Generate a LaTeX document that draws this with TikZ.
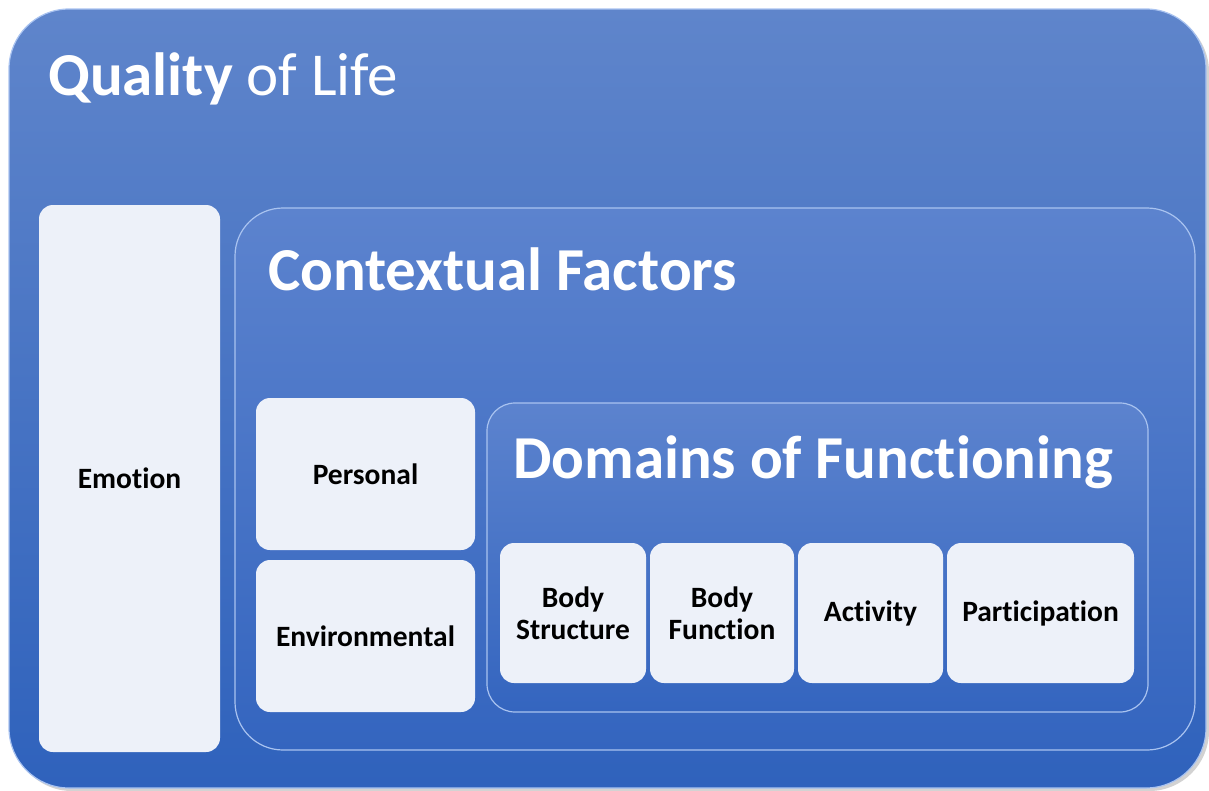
\documentclass[tikz,border=0pt]{standalone}
\usepackage{fontspec}
\setmainfont{Carlito}[Ligatures=CommonOff]
\usetikzlibrary{shadows}
\definecolor{qtop}{HTML}{5F85CB}
\definecolor{qbot}{HTML}{2F62BC}
\definecolor{ftop}{HTML}{5C83CE}
\definecolor{fbot}{HTML}{3465BF}
\definecolor{cell}{HTML}{EDF1F9}
\definecolor{rim}{HTML}{A9C3F0}
\begin{document}
\begin{tikzpicture}[x=1pt,y=-1pt]
	\tikzset{frame/.style={rounded corners=#1, inner sep=0pt, draw=rim, line width=1.2pt, top color=ftop, bottom color=fbot},
	cellbox/.style={rounded corners=14pt, inner sep=0pt, fill=cell, align=center, font=\bfseries\fontsize{29.5}{32}\selectfont},
	head/.style={anchor=base west, inner sep=0pt, text=white, font=\fontsize{61}{66}\selectfont}}
	\useasboundingbox[fill=white] (0,0) rectangle (1209,790);
	\path
	(607.5,398.5) node[frame=60pt, top color=qtop, bottom color=qbot, minimum width=1197pt, minimum height=779pt, drop shadow={opacity=0.35, shadow xshift=3pt, shadow yshift=-3pt}](QoL){}
	(715,479) node[frame=48pt, minimum width=960pt, minimum height=542pt](CF){}
	(817.5,557.5) node[frame=28pt, minimum width=661pt, minimum height=309pt](DF){}
	(48,95) node[head](tQoL){\textbf{Quality} of Life}
	(268,290) node[head, font=\bfseries\fontsize{61}{66}\selectfont](tCF){Contextual Factors}
	(513,478) node[head, font=\bfseries\fontsize{61}{66}\selectfont](tDF){Domains of Functioning}
	(129.5,478.5) node[cellbox, minimum width=181pt, minimum height=547pt](Emo){Emotion}
	(365.5,474) node[cellbox, minimum width=219pt, minimum height=152pt](Per){Personal}
	(365.5,636) node[cellbox, minimum width=219pt, minimum height=152pt](Env){Environmental}
	(573,613) node[cellbox, minimum width=146pt, minimum height=140pt](BS){Body\\Structure}
	(722,613) node[cellbox, minimum width=144pt, minimum height=140pt](BF){Body\\Function}
	(870.5,613) node[cellbox, minimum width=145pt, minimum height=140pt](Act){Activity}
	(1040.5,613) node[cellbox, minimum width=187pt, minimum height=140pt](Par){Participation}
	;
\end{tikzpicture}
\end{document}
